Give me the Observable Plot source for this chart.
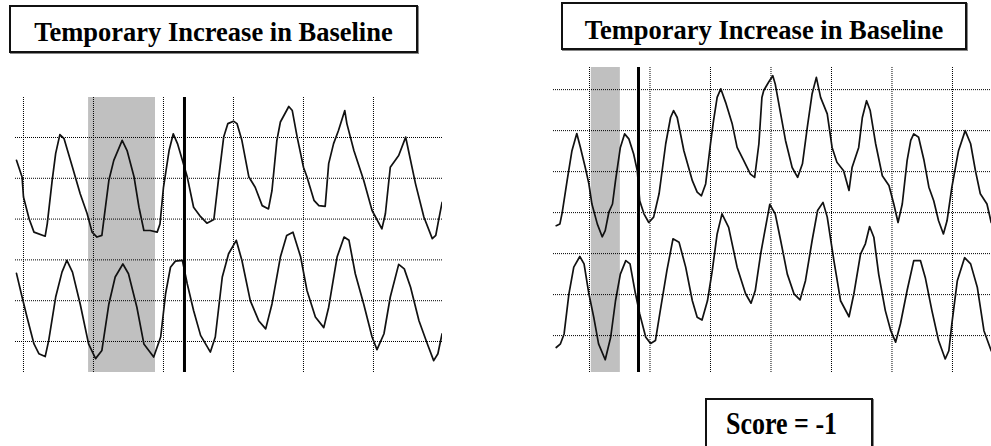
<!DOCTYPE html>
<html>
<head>
<meta charset="utf-8">
<script src="https://cdn.jsdelivr.net/npm/d3@7"></script>
<script src="https://cdn.jsdelivr.net/npm/@observablehq/plot@0.6"></script>
<style>
  html, body { margin: 0; padding: 0; background: #fff; width: 991px; height: 446px; overflow: hidden; }
  .abs { position: absolute; }
  .box { position: absolute; box-sizing: border-box; border: 2px solid #111; background: #fff; box-shadow: 1px 1px 0 #888; }
  .title { position: absolute; left: 0; right: 0; text-align: center; white-space: nowrap;
           font-family: "Liberation Serif", "Times New Roman", serif; font-weight: bold; font-size: 26.5px; line-height: 26.5px; color: #000; }
  .score { position: absolute; white-space: nowrap; font-family: "Liberation Serif", "Times New Roman", serif;
           font-weight: bold; font-size: 26px; line-height: 26px; color: #000; transform: scaleY(1.25); transform-origin: 0 21.8px; }
</style>
</head>
<body>
<div id="left" class="abs" style="left:15px; top:97px;"></div>
<div id="right" class="abs" style="left:553px; top:67px;"></div>

<div class="box" style="left:9px; top:5px; width:409px; height:48px;">
  <div class="title" id="t1" style="top:12.3px;"></div>
</div>
<div class="box" style="left:561px; top:2px; width:406px; height:48px;">
  <div class="title" id="t2" style="top:13.3px;"></div>
</div>
<div class="box" style="left:705px; top:398px; width:168px; height:70px;">
  <div class="score" id="sc" style="left:19px; top:13.2px;"></div>
</div>

<script>
// ---- Text ----
const titleText = "Temporary Increase in Baseline";
const scoreText = "Score = -1";

// ---- Grid ticks (time in grid units, amplitude in grid units) ----
const leftTimeTicks = [0, 1, 2, 3, 4, 5];
const leftAmpTicks = [0, 1, 2, 3, 4, 5];
const rightTimeTicks = [0, 1, 2, 3, 4, 5, 6];
const rightAmpTicks = [0, 1, 2, 3, 4, 5, 6];

// ---- Shaded baseline window and marker ----
const leftBand = [0.93, 1.886];
const leftMarker = 2.3;
const rightBand = [0.03, 0.51];
const rightMarker = 0.81;

// ---- Left panel traces [time, amplitude] ----
const leftTop = [
  [-0.10,4.44],[-0.02,4.03],[0.00,3.54],[0.08,3.01],[0.15,2.68],[0.31,2.58],[0.34,2.89],[0.41,3.95],
  [0.46,4.61],[0.52,5.07],[0.58,4.97],[0.70,4.27],[0.81,3.62],[0.91,3.13],[0.98,2.68],[1.05,2.56],
  [1.12,2.60],[1.15,3.01],[1.22,3.95],[1.29,4.44],[1.41,4.93],[1.48,4.68],[1.58,4.03],[1.65,3.29],
  [1.72,2.72],[1.81,2.72],[1.91,2.68],[1.95,2.88],[2.00,3.78],[2.08,4.68],[2.14,5.09],[2.20,4.85],
  [2.27,4.44],[2.34,4.03],[2.43,3.29],[2.53,3.06],[2.62,2.90],[2.72,2.99],[2.79,4.03],[2.86,5.01],
  [2.92,5.34],[3.00,5.40],[3.05,5.34],[3.12,4.93],[3.22,4.03],[3.31,3.78],[3.41,3.33],[3.50,3.25],
  [3.55,3.70],[3.62,4.93],[3.67,5.38],[3.79,5.76],[3.84,5.66],[3.91,5.01],[4.00,4.27],[4.05,4.03],
  [4.15,3.46],[4.22,3.33],[4.31,3.31],[4.36,4.36],[4.43,4.85],[4.50,5.17],[4.59,5.66],[4.62,5.34],
  [4.72,4.68],[4.86,3.95],[4.98,3.21],[5.12,2.76],[5.17,3.13],[5.24,4.27],[5.36,4.56],[5.46,5.01],
  [5.50,4.68],[5.60,3.87],[5.72,3.05],[5.84,2.52],[5.89,2.60],[5.93,2.97],[5.98,3.41]
];
const leftBottom = [
  [-0.10,1.67],[-0.02,1.09],[0.05,0.60],[0.15,-0.06],[0.22,-0.30],[0.31,-0.37],[0.36,0.02],[0.46,1.09],
  [0.55,1.70],[0.62,1.99],[0.70,1.70],[0.81,0.92],[0.93,-0.06],[1.03,-0.42],[1.12,-0.22],[1.22,0.92],
  [1.31,1.58],[1.42,1.90],[1.50,1.66],[1.62,0.84],[1.72,-0.06],[1.86,-0.38],[1.96,0.11],[2.03,1.17],
  [2.10,1.82],[2.17,1.97],[2.27,1.99],[2.34,1.41],[2.43,0.76],[2.53,0.15],[2.67,-0.26],[2.74,0.11],
  [2.84,1.58],[2.93,2.15],[3.04,2.48],[3.12,1.99],[3.24,1.00],[3.36,0.51],[3.46,0.31],[3.55,0.92],
  [3.67,2.07],[3.76,2.60],[3.85,2.68],[3.96,2.07],[4.05,1.25],[4.17,0.60],[4.29,0.34],[4.36,0.84],
  [4.48,2.07],[4.58,2.56],[4.65,2.48],[4.74,1.66],[4.86,0.92],[4.98,0.11],[5.05,-0.20],[5.15,0.19],
  [5.24,1.09],[5.36,1.89],[5.44,1.78],[5.53,1.33],[5.65,0.51],[5.77,-0.06],[5.86,-0.47],[5.92,-0.30],
  [5.98,0.19]
];

// ---- Right panel traces [time, amplitude] ----
const rightTop = [
  [-0.55,2.68],[-0.49,2.72],[-0.45,3.01],[-0.37,3.78],[-0.29,4.51],[-0.21,4.93],[-0.15,4.59],[-0.07,4.10],
  [-0.01,3.70],[0.04,3.21],[0.13,2.72],[0.21,2.41],[0.26,2.56],[0.32,3.01],[0.38,3.21],[0.43,3.78],
  [0.51,4.59],[0.58,4.92],[0.65,4.80],[0.73,4.43],[0.79,4.02],[0.83,3.29],[0.90,2.97],[0.98,2.76],
  [1.06,2.89],[1.15,3.46],[1.26,4.68],[1.34,5.32],[1.39,5.49],[1.45,5.32],[1.56,4.51],[1.70,3.78],
  [1.78,3.50],[1.85,3.41],[1.92,3.70],[2.00,4.68],[2.05,5.24],[2.11,5.81],[2.17,6.02],[2.25,5.69],
  [2.36,5.16],[2.44,4.59],[2.55,4.27],[2.66,3.94],[2.73,3.86],[2.80,4.68],[2.85,5.81],[2.88,5.98],
  [2.96,6.18],[3.03,6.34],[3.07,6.14],[3.16,5.41],[3.24,4.76],[3.35,4.10],[3.44,3.86],[3.52,4.19],
  [3.60,5.08],[3.68,5.90],[3.75,6.30],[3.82,5.81],[3.93,5.41],[4.01,4.59],[4.09,4.23],[4.20,4.02],
  [4.29,3.54],[4.34,4.10],[4.45,4.59],[4.51,5.32],[4.58,5.73],[4.64,5.49],[4.73,4.68],[4.84,3.90],
  [4.95,3.66],[5.03,3.21],[5.10,2.76],[5.17,3.21],[5.25,4.27],[5.31,4.76],[5.36,4.92],[5.44,4.84],
  [5.53,4.27],[5.61,3.62],[5.69,3.29],[5.77,2.80],[5.85,2.48],[5.91,2.80],[5.99,3.62],[6.10,4.51],
  [6.21,5.00],[6.30,4.68],[6.38,4.02],[6.46,3.46],[6.57,3.21],[6.64,2.76]
];
const rightBottom = [
  [-0.55,-0.29],[-0.48,-0.20],[-0.42,0.04],[-0.34,1.02],[-0.26,1.67],[-0.16,1.93],[-0.09,1.75],[-0.01,1.02],
  [0.07,0.45],[0.15,-0.20],[0.26,-0.59],[0.35,-0.04],[0.43,0.85],[0.51,1.50],[0.60,1.83],[0.67,1.75],
  [0.76,1.02],[0.83,0.53],[0.93,-0.04],[1.01,-0.19],[1.09,-0.12],[1.17,0.61],[1.28,1.59],[1.38,2.36],
  [1.48,2.28],[1.59,1.67],[1.70,0.85],[1.78,0.45],[1.86,0.38],[1.95,0.85],[2.03,1.59],[2.11,2.48],
  [2.19,2.97],[2.30,2.64],[2.44,1.67],[2.58,1.02],[2.67,0.79],[2.74,1.10],[2.83,2.00],[2.88,2.40],
  [2.98,3.20],[3.07,2.97],[3.16,2.32],[3.27,1.50],[3.38,1.02],[3.48,0.87],[3.57,1.34],[3.68,2.32],
  [3.77,3.05],[3.86,3.25],[3.93,2.89],[4.04,1.83],[4.15,0.85],[4.29,0.46],[4.37,1.02],[4.48,1.99],
  [4.56,2.24],[4.63,2.66],[4.70,2.40],[4.78,1.50],[4.89,0.61],[4.98,0.12],[5.06,-0.16],[5.14,0.29],
  [5.25,1.10],[5.36,1.83],[5.47,1.83],[5.55,1.42],[5.66,0.61],[5.77,-0.12],[5.88,-0.57],[5.94,-0.37],
  [5.99,0.29],[6.08,1.34],[6.20,1.90],[6.30,1.75],[6.41,1.18],[6.52,0.12],[6.64,-0.37]
];

document.getElementById("t1").textContent = titleText;
document.getElementById("t2").textContent = titleText;
document.getElementById("sc").textContent = scoreText;

function panel({width, height, xDomain, yDomain, xTicks, yTicks, band, marker, top, bottom}) {
  const gridStyle = {stroke: "#000", strokeWidth: 1, strokeDasharray: "1,1"};
  return Plot.plot({
    width, height,
    margin: 0,
    style: {background: "transparent", overflow: "visible"},
    x: {domain: xDomain, axis: null},
    y: {domain: yDomain, axis: null},
    marks: [
      Plot.rect([{a: band[0], b: band[1]}], {x1: "a", x2: "b", y1: yDomain[0], y2: yDomain[1], fill: "#c0c0c0"}),
      Plot.ruleX(xTicks, {...gridStyle}),
      Plot.ruleY(yTicks, {...gridStyle}),
      Plot.line(top, {x: d => d[0], y: d => d[1], stroke: "#111", strokeWidth: 1.7, clip: true}),
      Plot.line(bottom, {x: d => d[0], y: d => d[1], stroke: "#111", strokeWidth: 1.7, clip: true}),
      Plot.ruleX([marker], {stroke: "#000", strokeWidth: 3})
    ]
  });
}

document.getElementById("left").appendChild(panel({
  width: 427, height: 275,
  xDomain: [-0.114, 5.986], yDomain: [-0.76, 5.98],
  xTicks: leftTimeTicks, yTicks: leftAmpTicks,
  band: leftBand, marker: leftMarker, top: leftTop, bottom: leftBottom
}));
document.getElementById("right").appendChild(panel({
  width: 438, height: 305,
  xDomain: [-0.595, 6.645], yDomain: [-0.90, 6.54],
  xTicks: rightTimeTicks, yTicks: rightAmpTicks,
  band: rightBand, marker: rightMarker, top: rightTop, bottom: rightBottom
}));
</script>
</body>
</html>
